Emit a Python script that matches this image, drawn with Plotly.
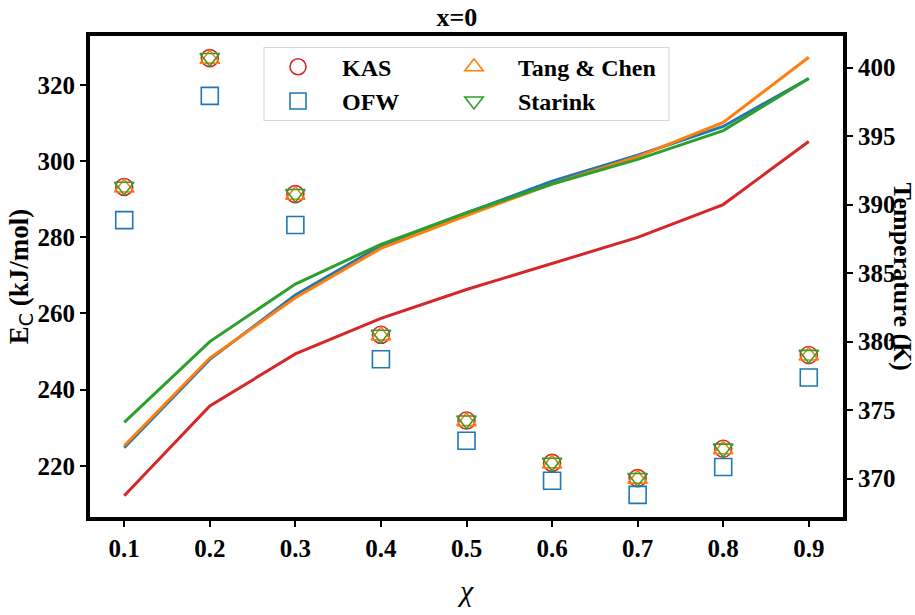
import plotly.graph_objects as go

chi = [0.1, 0.2, 0.3, 0.4, 0.5, 0.6, 0.7, 0.8, 0.9]

E_KAS = [293.2, 327.0, 291.3, 254.4, 231.9, 220.8, 216.8, 224.5, 249.1]
E_OFW = [284.5, 317.1, 283.2, 248.0, 226.6, 216.1, 212.4, 219.7, 243.2]
E_Tang = [293.0, 326.8, 291.1, 254.2, 231.7, 220.6, 216.6, 224.3, 248.9]
E_Starink = [293.3, 327.1, 291.4, 254.5, 232.0, 220.9, 216.9, 224.6, 249.2]

T_KAS = [368.75, 375.3, 379.1, 381.7, 383.8, 385.7, 387.6, 390.0, 394.6]
T_OFW = [372.25, 378.7, 383.4, 387.0, 389.4, 391.7, 393.6, 395.7, 399.2]
T_Tang = [372.4, 378.8, 383.2, 386.8, 389.2, 391.5, 393.5, 396.0, 400.75]
T_Starink = [374.1, 380.0, 384.2, 387.1, 389.4, 391.5, 393.3, 395.4, 399.2]

x_ticks = [0.1, 0.2, 0.3, 0.4, 0.5, 0.6, 0.7, 0.8, 0.9]
y_ticks = [220, 240, 260, 280, 300, 320]
y2_ticks = [370, 375, 380, 385, 390, 395, 400]

RED, BLUE, ORANGE, GREEN = "#d62728", "#1f77b4", "#ff7f0e", "#2ca02c"
FONT = "Liberation Serif"

fig = go.Figure()

series = [
    ("KAS", E_KAS, T_KAS, RED, "circle-open", "legend"),
    ("OFW", E_OFW, T_OFW, BLUE, "square-open", "legend"),
    ("Tang &amp; Chen", E_Tang, T_Tang, ORANGE, "triangle-up-open", "legend2"),
    ("Starink", E_Starink, T_Starink, GREEN, "triangle-down-open", "legend2"),
]

for name, E, T, col, sym, lg in series:
    fig.add_trace(go.Scatter(
        x=chi, y=E, mode="markers", name=f"<b>{name}</b>", legend=lg,
        marker=dict(symbol=sym, size=17, color=col, line=dict(width=1.6, color=col)),
        yaxis="y", showlegend=True,
    ))

for name, E, T, col, sym, lg in series:
    fig.add_trace(go.Scatter(
        x=chi, y=T, mode="lines", name=name + " T",
        line=dict(color=col, width=3), yaxis="y2", showlegend=False,
    ))

W, H = 915, 615
L, R, Tm, B = 90, 72, 36, 78
pw, ph = W - L - R, H - Tm - B

def px(xp):
    return (xp - L) / pw

def py(yp):
    return (H - B - yp) / ph

tickfont = dict(family=FONT, size=25, color="black")

fig.update_layout(
    width=W, height=H,
    margin=dict(l=L, r=R, t=Tm, b=B),
    paper_bgcolor="white", plot_bgcolor="white",
    font=dict(family=FONT, color="black"),
    title=dict(text="<b>x=0</b>", x=px(466), xanchor="center", y=1 - 17 / H, yanchor="middle",
               font=dict(family=FONT, size=26, color="black")),
    xaxis=dict(
        range=[0.06, 0.94], tickvals=x_ticks, ticktext=[f"<b>{v:.1f}</b>" for v in x_ticks],
        showline=True, linewidth=4, linecolor="black", mirror=True,
        ticks="outside", ticklen=6, tickwidth=1.5, tickcolor="black",
        showgrid=False, zeroline=False, tickfont=tickfont,
        title=dict(text="<i>χ</i>", font=dict(family=FONT, size=30, color="black"), standoff=20),
    ),
    yaxis=dict(
        range=[206.6, 332.8], tickvals=y_ticks, ticktext=[f"<b>{v}</b>" for v in y_ticks],
        showline=True, linewidth=4, linecolor="black", mirror=True,
        ticks="outside", ticklen=6, tickwidth=1.5, tickcolor="black",
        showgrid=False, zeroline=False, tickfont=tickfont,
        title=dict(text="<b>E<sub><span style='font-family:DejaVu Sans;font-weight:normal'>C</span></sub> (kJ/mol)</b>",
                   font=dict(family=FONT, size=27, color="black"), standoff=2),
    ),
    yaxis2=dict(
        range=[367.2, 402.3], tickvals=y2_ticks, ticktext=[f"<b>{v}</b>" for v in y2_ticks],
        overlaying="y", side="right",
        showline=True, linewidth=4, linecolor="black",
        ticks="outside", ticklen=6, tickwidth=1.5, tickcolor="black",
        showgrid=False, zeroline=False, tickfont=tickfont,
    ),
    legend=dict(
        x=px(254), y=py(45), xanchor="left", yanchor="top",
        bgcolor="rgba(0,0,0,0)", borderwidth=0,
        font=dict(family=FONT, size=24, color="black"),
        itemwidth=78, tracegroupgap=0,
    ),
    legend2=dict(
        x=px(430), y=py(45), xanchor="left", yanchor="top",
        bgcolor="rgba(0,0,0,0)", borderwidth=0,
        font=dict(family=FONT, size=24, color="black"),
        itemwidth=78, tracegroupgap=0,
    ),
    shapes=[dict(
        type="rect", xref="paper", yref="paper",
        x0=px(264), x1=px(669), y0=py(124), y1=py(48),
        line=dict(color="#d9d9d9", width=1.2), fillcolor="rgba(255,255,255,0.8)",
        layer="below",
    )],
    annotations=[dict(
        text="<b>Temperature (K)</b>", textangle=90, xref="paper", yref="paper",
        x=px(902), y=0.5, xanchor="center", yanchor="middle", showarrow=False,
        font=dict(family=FONT, size=26, color="black"),
    )],
)

fig.write_html("out.html")
